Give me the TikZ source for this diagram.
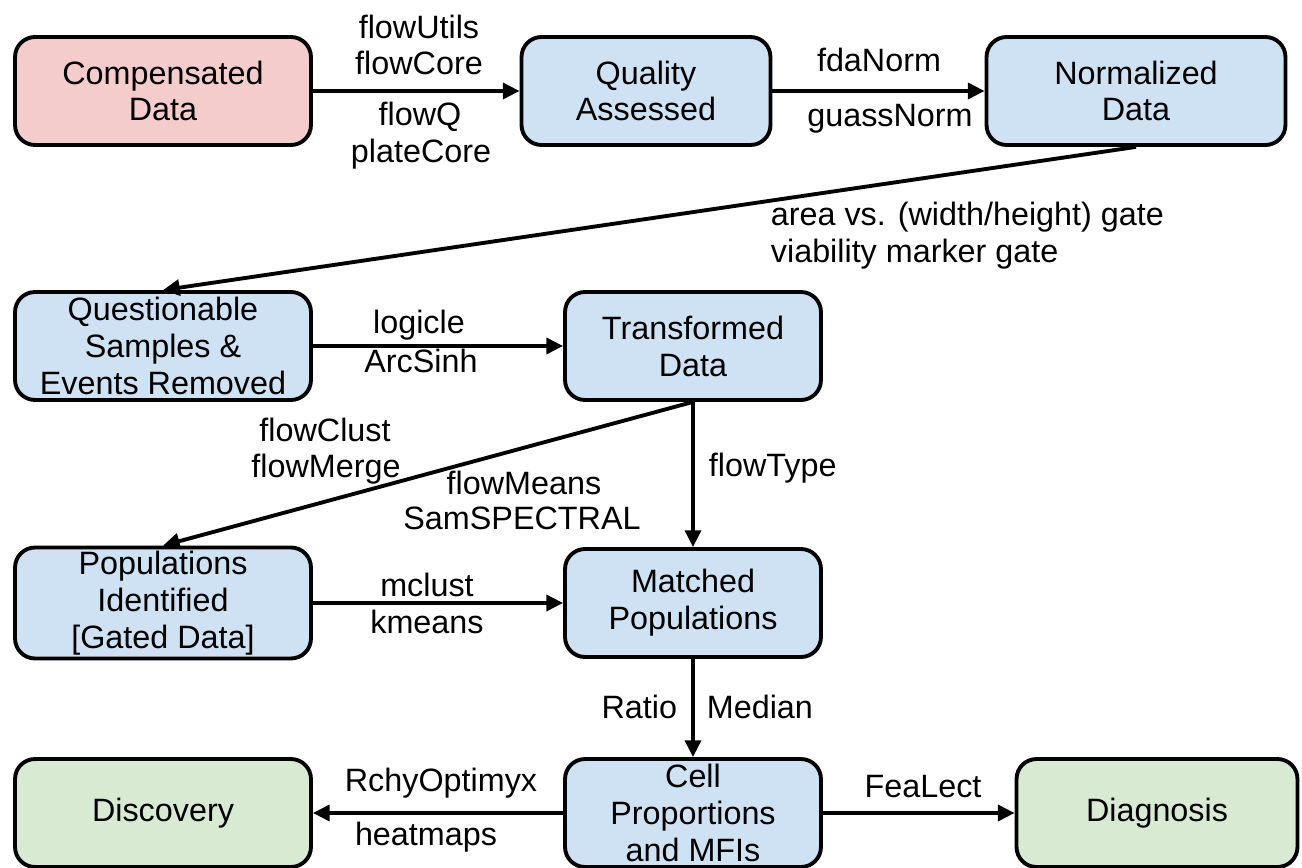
\documentclass[tikz,border=0pt]{standalone}
\usepackage{fontspec}
\setmainfont{Liberation Sans}
\usetikzlibrary{arrows.meta}

\definecolor{rawpink}{HTML}{F4CCCC}
\definecolor{procblue}{HTML}{CFE2F3}
\definecolor{resgreen}{HTML}{D9EAD3}

\begin{document}
\begin{tikzpicture}[x=0.02cm, y=-0.02cm, line width=2.2pt,
          font=\fontsize{18.4}{21}\selectfont,
          stage/.style={draw, rounded corners=0.4cm, align=center, inner sep=2pt,
            minimum width=5.92cm, minimum height=2.16cm},
          raw/.style={stage, fill=rawpink},
          proc/.style={stage, fill=procblue},
          final/.style={stage, fill=resgreen},
          flow/.style={-{Triangle[length=9.5pt, width=9pt]}},
          pkg/.style={inner sep=0pt, anchor=base},
        ]
          \useasboundingbox (0,0) rectangle (1302,868);
          \node[raw]  (comp)  at ( 163,  91) {Compensated\\Data};
          \node[proc, minimum width=4.98cm] (qual)  at ( 646,  91) {Quality\\Assessed};
          \node[proc, minimum width=5.98cm] (norm)  at (1136,  91) {Normalized\\Data};
          \node[proc] (quest) at ( 163, 346) {Questionable\\Samples \&\\Events Removed};
          \node[proc, minimum width=5.12cm] (trans) at ( 693, 346) {Transformed\\Data};
          \node[proc] (pops)  at ( 163, 603) {Populations\\Identified\\{[}Gated Data{]}};
          \node[proc, minimum width=5.12cm] (match) at ( 693, 603) {Matched\\Populations};
          \node[proc, minimum width=5.12cm] (cell)  at ( 693, 813) {Cell\\Proportions\\and MFIs};
          \node[final] (disc) at ( 163, 813) {Discovery};
          \node[final, minimum width=5.62cm] (diag) at (1157, 813) {Diagnosis};
          \draw[flow] (comp) -- (qual);
          \draw[flow] (qual) -- (norm);
          \draw[flow] (norm.south) -- (quest.north);
          \draw[flow] (quest) -- (trans);
          \draw[flow] (trans.south) -- (pops.north);
          \draw[flow] (trans) -- (match);
          \draw[flow] (pops) -- (match);
          \draw[flow] (match) -- (cell);
          \draw[flow] (cell) -- (disc);
          \draw[flow] (cell) -- (diag);
          \node[pkg] (utils) at (419,  39) {flowUtils};
          \node[pkg] (core)  at (419,  75) {flowCore};
          \node[pkg] (fq)    at (420, 126) {flowQ};
          \node[pkg] (plate) at (421, 163) {plateCore};
          \node[pkg] (fda)   at (879,  72) {fdaNorm};
          \node[pkg] (gauss) at (890, 127) {guassNorm};
          \node[pkg, anchor=base west] (gate1) at (769, 226) {area vs. (width/height) gate};
          \node[pkg, anchor=base west] (gate2) at (769, 263) {viability marker gate};
          \node[pkg] (logi)  at (419, 334) {logicle};
          \node[pkg] (asinh) at (421, 372) {ArcSinh};
          \node[pkg] (clust) at (325, 441) {flowClust};
          \node[pkg] (merge) at (326, 477) {flowMerge};
          \node[pkg] (means) at (524, 494) {flowMeans};
          \node[pkg] (spec)  at (522, 529) {SamSPECTRAL};
          \node[pkg, anchor=base west] (ftype) at (707, 476) {flowType};
          \node[pkg] (mcl)   at (427, 596) {mclust};
          \node[pkg] (kme)   at (427, 633) {kmeans};
          \node[pkg, anchor=base east] (ratio)  at (679, 718) {Ratio};
          \node[pkg, anchor=base west] (median) at (705, 718) {Median};
          \node[pkg] (rchy)  at (441, 791) {RchyOptimyx};
          \node[pkg] (heat)  at (426, 845) {heatmaps};
          \node[pkg] (fea)   at (923, 797) {FeaLect};
        \end{tikzpicture}
\end{document}
